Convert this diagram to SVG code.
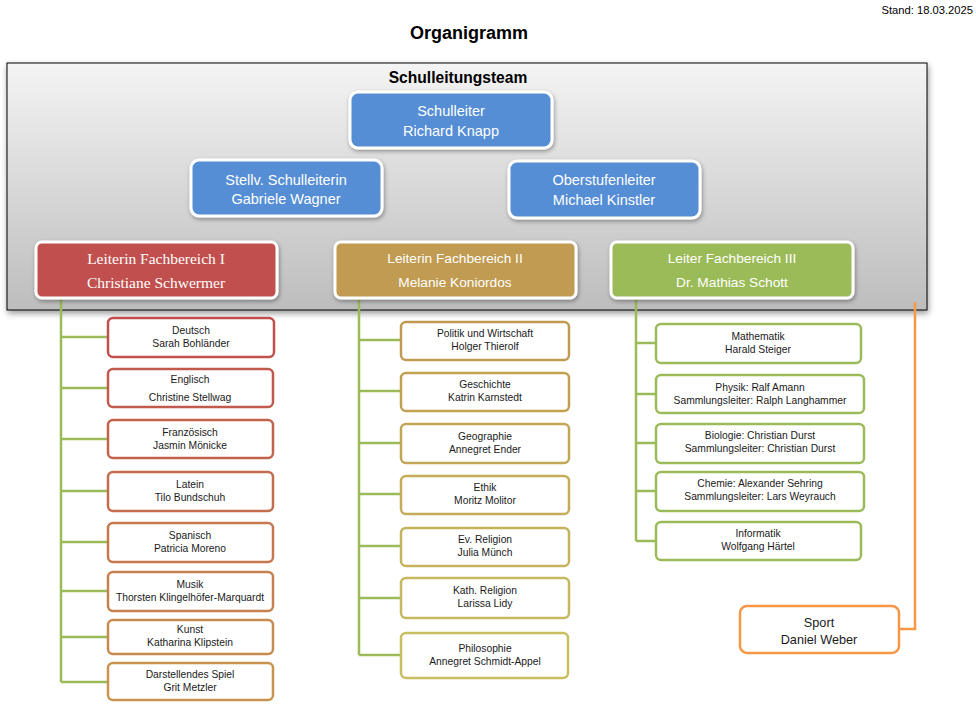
<svg xmlns="http://www.w3.org/2000/svg" width="976" height="711" viewBox="0 0 976 711">
<defs>
<linearGradient id="panelGrad" x1="0" y1="0" x2="0" y2="1">
<stop offset="0" stop-color="#f4f4f4"/>
<stop offset="1" stop-color="#bdbdbd"/>
</linearGradient>
<filter id="shadow" x="-10%" y="-10%" width="120%" height="130%">
<feDropShadow dx="1" dy="2" stdDeviation="2" flood-color="#000" flood-opacity="0.35"/>
</filter>
<filter id="pshadow" x="-5%" y="-5%" width="110%" height="115%">
<feDropShadow dx="1" dy="3" stdDeviation="3" flood-color="#000" flood-opacity="0.4"/>
</filter>
</defs>
<style>
.title{font-family:"Liberation Sans",Arial,sans-serif;font-weight:bold;fill:#000;text-anchor:middle}
.stand{font-family:"Liberation Sans",Arial,sans-serif;font-size:11.2px;fill:#000;text-anchor:end}
.lead{stroke:#fff;stroke-width:3;filter:url(#shadow)}
.bt{font-family:"Liberation Sans",Arial,sans-serif;font-size:14.5px;fill:#fff;text-anchor:middle}
.lt{font-family:"Liberation Sans",Arial,sans-serif;font-size:13.7px;fill:#fff;text-anchor:middle}
.ls{font-family:"Liberation Serif","Times New Roman",serif;font-size:15.5px;fill:#fff;text-anchor:middle}
.sub{fill:#fff;stroke-width:2.5}
.st{font-family:"Liberation Sans",Arial,sans-serif;font-size:10.3px;fill:#1a1a1a;text-anchor:middle}
.sp{font-family:"Liberation Sans",Arial,sans-serif;font-size:12.7px;fill:#1a1a1a;text-anchor:middle}
.con{fill:none;stroke:#9bbb59;stroke-width:2.5}
.con2{fill:none;stroke:#f79646;stroke-width:2.5}
</style>
<rect width="976" height="711" fill="#fff"/>
<text class="stand" x="973" y="14">Stand: 18.03.2025</text>
<text class="title" x="469" y="39" font-size="18">Organigramm</text>

<g id="panel">
<rect x="7" y="63" width="920" height="247" fill="url(#panelGrad)" stroke="#000" stroke-width="1" filter="url(#pshadow)"/>
<text class="title" x="458" y="83" font-size="15.6">Schulleitungsteam</text>
</g>

<g id="connectors">
<path class="con" d="M61 298 V682 M61 337 H108 M61 388 H108 M61 439 H108 M61 491 H108 M61 542 H108 M61 591 H108 M61 637 H108 M61 682 H108"/>
<path class="con" d="M359 298 V655 M359 340 H401 M359 391 H401 M359 443 H401 M359 494 H401 M359 546 H401 M359 598 H401 M359 655 H401"/>
<path class="con" d="M636 298 V541 M636 343 H656 M636 394 H656 M636 443 H656 M636 491 H656 M636 541 H656"/>
<path class="con2" d="M915 302 V629 H899"/>
</g>

<g id="schulleiter">
<rect class="lead" x="350" y="92" width="202" height="56" rx="8" fill="#558ed5"/>
<text class="bt" x="451" y="116">Schulleiter</text>
<text class="bt" x="451" y="136">Richard Knapp</text>
</g>
<g id="stellv">
<rect class="lead" x="191" y="160" width="191" height="56" rx="8" fill="#558ed5"/>
<text class="bt" x="286" y="185">Stellv. Schulleiterin</text>
<text class="bt" x="286" y="204">Gabriele Wagner</text>
</g>
<g id="oberstufe">
<rect class="lead" x="509" y="161" width="191" height="57" rx="8" fill="#558ed5"/>
<text class="bt" x="604" y="185">Oberstufenleiter</text>
<text class="bt" x="604" y="205">Michael Kinstler</text>
</g>
<g id="fb1">
<rect class="lead" x="36" y="242" width="241" height="56" rx="6" fill="#c0504d"/>
<text class="ls" x="156" y="263.5">Leiterin Fachbereich I</text>
<text class="ls" x="156" y="287.5">Christiane Schwermer</text>
</g>
<g id="fb2">
<rect class="lead" x="335" y="242" width="241" height="56" rx="6" fill="#c09b51"/>
<text class="lt" x="455" y="263">Leiterin Fachbereich II</text>
<text class="lt" x="455" y="287">Melanie Koniordos</text>
</g>
<g id="fb3">
<rect class="lead" x="611" y="242" width="242" height="56" rx="6" fill="#9bbb59"/>
<text class="lt" x="732" y="263">Leiter Fachbereich III</text>
<text class="lt" x="732" y="287">Dr. Mathias Schott</text>
</g>

<g id="deutsch"><rect class="sub" x="108" y="318" width="166" height="39" rx="5" stroke="#c0504d"/><text class="st" x="191" y="334">Deutsch</text><text class="st" x="191" y="347">Sarah Bohländer</text></g>
<g id="englisch"><rect class="sub" x="108" y="369" width="165" height="38" rx="5" stroke="#c15a4d"/><text class="st" x="190" y="382.5">Englisch</text><text class="st" x="190" y="400.5">Christine Stellwag</text></g>
<g id="franzoesisch"><rect class="sub" x="108" y="420" width="165" height="38" rx="5" stroke="#c2634d"/><text class="st" x="190" y="436">Französisch</text><text class="st" x="190" y="449">Jasmin Mönicke</text></g>
<g id="latein"><rect class="sub" x="108" y="472" width="165" height="39" rx="5" stroke="#c36d4e"/><text class="st" x="190" y="488">Latein</text><text class="st" x="190" y="501">Tilo Bundschuh</text></g>
<g id="spanisch"><rect class="sub" x="108" y="523" width="165" height="39" rx="5" stroke="#c5774e"/><text class="st" x="190" y="539">Spanisch</text><text class="st" x="190" y="552">Patricia Moreno</text></g>
<g id="musik"><rect class="sub" x="108" y="572" width="165" height="39" rx="5" stroke="#c6814e"/><text class="st" x="190" y="588">Musik</text><text class="st" x="190" y="601">Thorsten Klingelhöfer-Marquardt</text></g>
<g id="kunst"><rect class="sub" x="108" y="620" width="165" height="34" rx="5" stroke="#c78a4f"/><text class="st" x="190" y="633">Kunst</text><text class="st" x="190" y="646">Katharina Klipstein</text></g>
<g id="darstellendes"><rect class="sub" x="108" y="663" width="165" height="37" rx="5" stroke="#c8944f"/><text class="st" x="190" y="678">Darstellendes Spiel</text><text class="st" x="190" y="691">Grit Metzler</text></g>

<g id="politik"><rect class="sub" x="401" y="322" width="168" height="38" rx="5" stroke="#c09a50"/><text class="st" x="485" y="337">Politik und Wirtschaft</text><text class="st" x="485" y="350">Holger Thierolf</text></g>
<g id="geschichte"><rect class="sub" x="401" y="373" width="168" height="38" rx="5" stroke="#c1a052"/><text class="st" x="485" y="388">Geschichte</text><text class="st" x="485" y="401">Katrin Karnstedt</text></g>
<g id="geographie"><rect class="sub" x="401" y="424" width="168" height="39" rx="5" stroke="#c3a655"/><text class="st" x="485" y="440">Geographie</text><text class="st" x="485" y="453">Annegret Ender</text></g>
<g id="ethik"><rect class="sub" x="401" y="476" width="168" height="38" rx="5" stroke="#c4ac58"/><text class="st" x="485" y="491">Ethik</text><text class="st" x="485" y="504">Moritz Molitor</text></g>
<g id="evreligion"><rect class="sub" x="401" y="528" width="168" height="38" rx="5" stroke="#c5b25a"/><text class="st" x="485" y="543">Ev. Religion</text><text class="st" x="485" y="556">Julia Münch</text></g>
<g id="kathreligion"><rect class="sub" x="401" y="578" width="168" height="40" rx="5" stroke="#c6b85d"/><text class="st" x="485" y="594">Kath. Religion</text><text class="st" x="485" y="607">Larissa Lidy</text></g>
<g id="philosophie"><rect class="sub" x="401" y="633" width="167" height="45" rx="5" stroke="#c8be60"/><text class="st" x="485" y="652">Philosophie</text><text class="st" x="485" y="665">Annegret Schmidt-Appel</text></g>

<g id="mathematik"><rect class="sub" x="656" y="324" width="205" height="39" rx="5" stroke="#9bbb59"/><text class="st" x="758" y="340">Mathematik</text><text class="st" x="758" y="353">Harald Steiger</text></g>
<g id="physik"><rect class="sub" x="656" y="375" width="208" height="38" rx="5" stroke="#9bbb59"/><text class="st" x="760" y="391">Physik: Ralf Amann</text><text class="st" x="760" y="404">Sammlungsleiter: Ralph Langhammer</text></g>
<g id="biologie"><rect class="sub" x="656" y="424" width="208" height="39" rx="5" stroke="#9bbb59"/><text class="st" x="760" y="439">Biologie: Christian Durst</text><text class="st" x="760" y="452">Sammlungsleiter: Christian Durst</text></g>
<g id="chemie"><rect class="sub" x="656" y="472" width="208" height="39" rx="5" stroke="#9bbb59"/><text class="st" x="760" y="487">Chemie: Alexander Sehring</text><text class="st" x="760" y="500">Sammlungsleiter: Lars Weyrauch</text></g>
<g id="informatik"><rect class="sub" x="656" y="522" width="205" height="38" rx="5" stroke="#9bbb59"/><text class="st" x="758" y="537">Informatik</text><text class="st" x="758" y="550">Wolfgang Härtel</text></g>

<g id="sport"><rect class="sub" x="740" y="606" width="159" height="47" rx="7" stroke="#f79646"/><text class="sp" x="819" y="627">Sport</text><text class="sp" x="819" y="644">Daniel Weber</text></g>
</svg>
